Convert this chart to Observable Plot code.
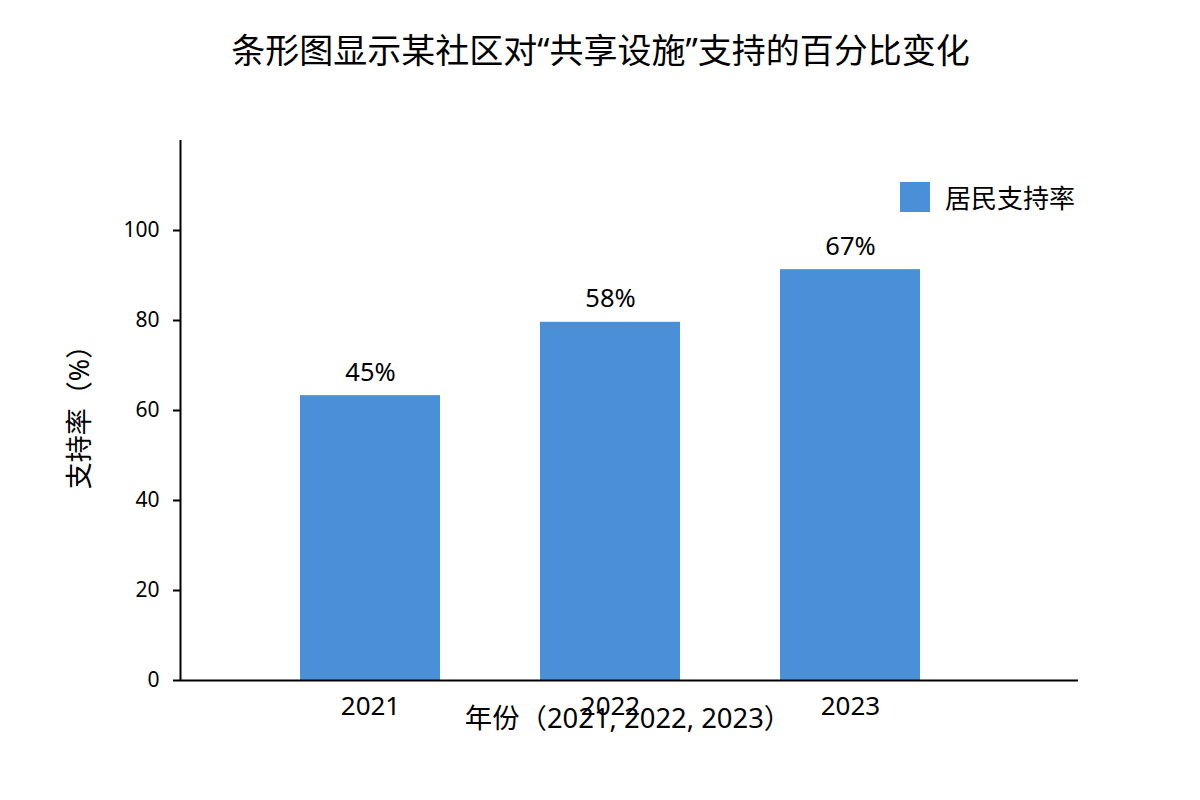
<!DOCTYPE html>
<html>
<head>
<meta charset="utf-8">
<script src="https://cdn.jsdelivr.net/npm/d3@7"></script>
<script src="https://cdn.jsdelivr.net/npm/@observablehq/plot@0.6"></script>
<style>
  html, body { margin: 0; padding: 0; background: #fff; }
  #wrap { position: relative; width: 1200px; height: 800px; font-family: "Noto Sans", "Noto Sans CJK SC", sans-serif; }
  #legend { position: absolute; left: 900px; top: 178px; display: flex; align-items: center; font-size: 26px; color: #000; }
  #legend .sw { width: 30px; height: 30px; background: #4a90d9; margin-right: 15px; }
</style>
</head>
<body>
<div id="wrap">
  <div id="chart"></div>
  <div id="legend"><div class="sw"></div><span>居民支持率</span></div>
</div>
<script>
const title = "条形图显示某社区对“共享设施”支持的百分比变化";
const years = ["2021", "2022", "2023"];
const barValues = [63.3, 79.6, 91.3];
const barLabels = ["45%", "58%", "67%"];
const yTicks = [0, 20, 40, 60, 80, 100];
const xLabel = "年份（2021, 2022, 2023）";
const yLabel = "支持率（%）";
const seriesName = "居民支持率";

const data = years.map((y, i) => ({i, year: y, value: barValues[i], label: barLabels[i]}));
const xMin = -0.7917, xMax = 2.95, half = 0.2917;
const color = "#4a90d9";

const chart = Plot.plot({
  width: 1200,
  height: 800,
  marginLeft: 180,
  marginRight: 122,
  marginTop: 140,
  marginBottom: 120,
  style: {fontFamily: '"Noto Sans", "Noto Sans CJK SC", sans-serif', background: "#fff", color: "#000"},
  x: {domain: [xMin, xMax]},
  y: {domain: [0, 120]},
  marks: [
    Plot.rectY(data, {x1: d => d.i - half, x2: d => d.i + half, y1: 0, y2: "value", fill: color}),
    Plot.ruleX([xMin], {y1: 0, y2: 120, stroke: "#000", strokeWidth: 2}),
    Plot.ruleY([0], {stroke: "#000", strokeWidth: 2}),
    Plot.axisY({ticks: yTicks, tickSize: 7, tickPadding: 14, fontSize: 21, strokeWidth: 2, label: null}),
    Plot.axisX({ticks: [0, 1, 2], tickFormat: i => years[i], tickSize: 0, tickPadding: 16, fontSize: 26, label: null}),
    Plot.text(data, {x: "i", y: "value", text: "label", dy: -15, lineAnchor: "bottom", fontSize: 25.5, fill: "#000"}),
    Plot.text([title], {frameAnchor: "top", dx: -29, dy: -78, lineAnchor: "bottom", fontSize: 34, fill: "#000"}),
    Plot.text([xLabel], {frameAnchor: "bottom", dx: -1.5, dy: 47, lineAnchor: "bottom", fontSize: 27.4, fill: "#000"}),
    Plot.text([yLabel], {frameAnchor: "left", textAnchor: "middle", dx: -100, dy: 0, rotate: -90, fontSize: 27, fill: "#000"})
  ]
});
document.getElementById("chart").appendChild(chart);
</script>
</body>
</html>
